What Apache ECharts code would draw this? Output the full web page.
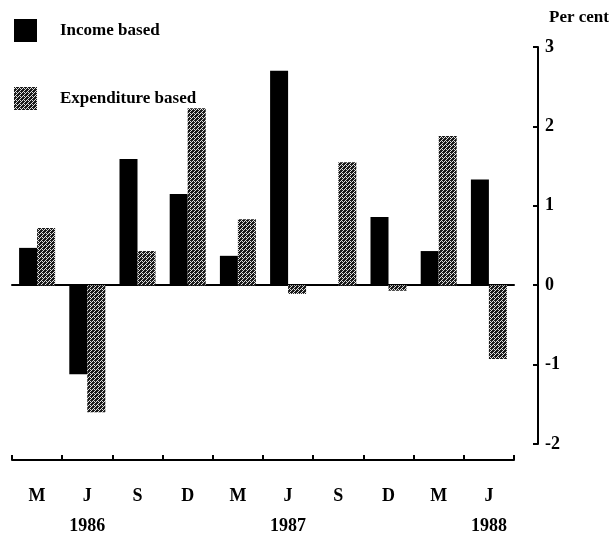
<!DOCTYPE html>
<html>
<head>
<meta charset="utf-8">
<script src="https://cdn.jsdelivr.net/npm/echarts@6/dist/echarts.min.js"></script>
<style>
  html, body { margin: 0; padding: 0; background: #fff; }
  #main { width: 613px; height: 535px; }
</style>
</head>
<body>
<div id="main"></div>
<script>
var months = ['M', 'J', 'S', 'D', 'M', 'J', 'S', 'D', 'M', 'J'];
var years = ['', '1986', '', '', '', '1987', '', '', '', '1988'];
var incomeBased = [0.47, -1.12, 1.59, 1.15, 0.37, 2.7, 0, 0.86, 0.43, 1.33];
var expenditureBased = [0.72, -1.6, 0.43, 2.23, 0.83, -0.11, 1.55, -0.07, 1.88, -0.93];
var yTicks = [-2, -1, 0, 1, 2, 3];

// dithered grey fill like the printed hatch
function makePattern() {
    var c = document.createElement('canvas');
    c.width = 4; c.height = 4;
    var ctx = c.getContext('2d');
    ctx.fillStyle = '#1a1a1a';
    ctx.fillRect(0, 0, 4, 4);
    ctx.fillStyle = '#e0e0e0';
    ctx.fillRect(1, 0, 1, 1);
    ctx.fillRect(3, 2, 1, 1);
    ctx.fillRect(0, 1, 1, 1);
    ctx.fillRect(2, 1, 1, 1);
    ctx.fillRect(2, 3, 1, 1);
    return c;
}

var font = '"Liberation Serif", "DejaVu Serif", serif';
var myChart = echarts.init(document.getElementById('main'));

var option = {
    backgroundColor: '#fff',
    animation: false,
    title: {
        text: 'Per cent',
        left: 544,
        top: 4,
        textStyle: { fontFamily: font, fontSize: 17, fontWeight: 'bold', color: '#000' }
    },
    legend: {
        orient: 'vertical',
        left: 9,
        top: 14,
        itemWidth: 23,
        itemHeight: 23,
        itemGap: 45,
        icon: 'rect',
        textStyle: { fontFamily: font, fontSize: 17, fontWeight: 'bold', color: '#000', padding: [0, 0, 0, 18] },
        data: ['Income based', 'Expenditure based']
    },
    grid: { left: 12, right: 99, top: 47, bottom: 91, outerBoundsMode: 'none', containLabel: false },
    xAxis: [{
        type: 'category',
        data: months,
        axisLine: { onZero: true, lineStyle: { color: '#000', width: 2 } },
        axisTick: { show: false },
        axisLabel: { show: false }
    }, {
        type: 'category',
        data: months,
        position: 'bottom',
        offset: 16,
        axisLine: { onZero: false, lineStyle: { color: '#000', width: 2 } },
        axisTick: { show: true, inside: true, length: 5, interval: 0, lineStyle: { color: '#000', width: 2 } },
        axisLabel: {
            interval: 0,
            margin: 21,
            lineHeight: 30,
            fontFamily: font,
            fontSize: 18,
            fontWeight: 'bold',
            color: '#000',
            formatter: function (v, i) {
                return years[i] ? v + '\n' + years[i] : v;
            }
        }
    }],
    yAxis: {
        type: 'value',
        position: 'right',
        offset: 24,
        min: -2,
        max: 3,
        interval: 1,
        splitLine: { show: false },
        axisLine: { show: true, lineStyle: { color: '#000', width: 2 } },
        axisTick: { show: true, inside: true, length: 5, lineStyle: { color: '#000', width: 2 } },
        axisLabel: {
            margin: 7,
            fontFamily: font,
            fontSize: 18,
            fontWeight: 'bold',
            color: '#000',
            formatter: function (v) { return yTicks.indexOf(v) > -1 ? String(v) : ''; }
        }
    },
    series: [{
        name: 'Income based',
        type: 'bar',
        barWidth: 18,
        barGap: '0%',
        itemStyle: { color: '#000' },
        data: incomeBased
    }, {
        name: 'Expenditure based',
        type: 'bar',
        barWidth: 18,
        barGap: '0%',
        itemStyle: { color: { image: makePattern(), repeat: 'repeat' } },
        data: expenditureBased
    }]
};
myChart.setOption(option);
</script>
</body>
</html>
